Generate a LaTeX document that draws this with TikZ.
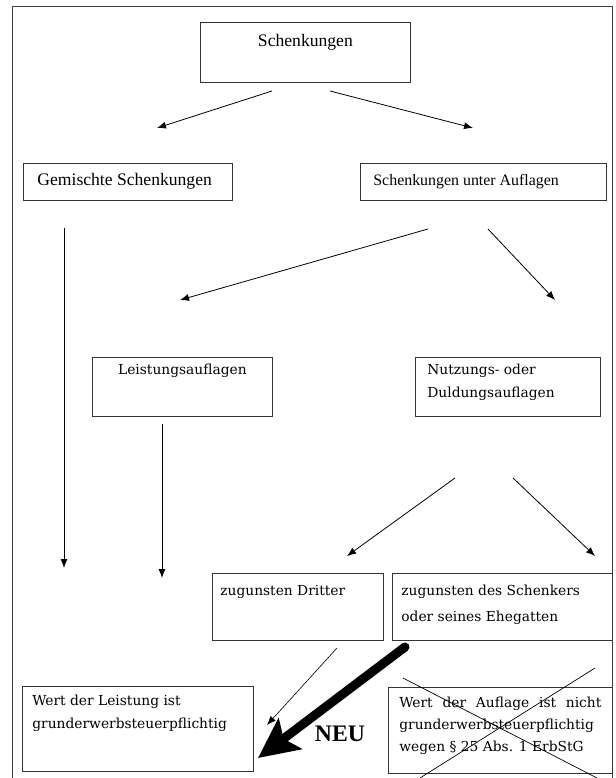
\documentclass[tikz,border=0pt]{standalone}
\usepackage{fontspec}
\setmainfont{Liberation Serif}
\newfontfamily\georgia{DejaVu Serif}
\usetikzlibrary{arrows.meta}
\newcommand{\boxtext}[4]{\begin{minipage}[t][#2][t]{#1}\vspace*{#3}#4\end{minipage}}

\begin{document}
\begin{tikzpicture}[x=1pt, y=-1pt,
  box/.style={draw=black!80, line width=0.8pt, anchor=north west,
              inner ysep=0pt, inner xsep=#1},
  box/.default=0pt,
  arr/.style={line width=0.8pt, -{Latex[length=9pt,width=7pt]}},
  tms/.style={font=\fontsize{17.6}{21}\selectfont},
  geo/.style={font=\georgia\fontsize{13.8}{23}\selectfont}]
\useasboundingbox (0,0) rectangle (615,778);
\draw[black!75, line width=1pt] (12,778) -- (12,7) -- (612,7) -- (612,778);

\node[box, tms] (schenk) at (200,22) {\boxtext{210pt}{60pt}{12pt}{\centering Schenkungen}};
\node[box=14pt, tms] (gemischt) at (23,163) {\boxtext{181pt}{37pt}{10pt}{Gemischte Schenkungen}};
\node[box=13pt, font=\fontsize{15.9}{19}\selectfont] (auflagen) at (360,163) {\boxtext{220pt}{37pt}{10.5pt}{Schenkungen unter Auflagen}};
\node[box, geo] (leistung) at (92,357) {\boxtext{180pt}{59pt}{7pt}{\centering Leistungsauflagen}};
\node[box=12pt, geo] (nutzung) at (415,357) {\boxtext{161pt}{59pt}{7pt}{\raggedright Nutzungs- oder\\Duldungsauflagen}};
\node[box=8pt, geo] (dritter) at (212,573) {\boxtext{155pt}{67pt}{12pt}{\raggedright zugunsten Dritter}};
\node[box=9pt, geo, font=\georgia\fontsize{13.8}{26}\selectfont] (schenker) at (392,573) {\boxtext{202pt}{67pt}{12pt}{\raggedright zugunsten des Schenkers\\oder seines Ehegatten}};
\node[box=10pt, geo] (wertL) at (22,686) {\boxtext{211pt}{85pt}{8.5pt}{\raggedright Wert der Leistung ist\\grunderwerbsteuerpflichtig}};
\node[box=11pt, geo, font=\georgia\fontsize{13.8}{22}\selectfont] (wertA) at (388,687) {\boxtext{202pt}{86pt}{9.5pt}{Wert der Auflage ist nicht\linebreak grunderwerbsteuerpflichtig\\wegen § 25 Abs. 1 ErbStG}};
\node[font=\bfseries\fontsize{23.7}{26}\selectfont] (neu) at (340,734) {NEU};

\coordinate (s1) at (272,91);  \coordinate (e1) at (157,128);
\coordinate (s2) at (330,91);  \coordinate (e2) at (473,128);
\coordinate (s3) at (64,228);  \coordinate (e3) at (64,568);
\coordinate (s4) at (428,229); \coordinate (e4) at (180,300);
\coordinate (s5) at (488,229); \coordinate (e5) at (555,300);
\coordinate (s6) at (162,424); \coordinate (e6) at (162,578);
\coordinate (s7) at (455,478); \coordinate (e7) at (347,556);
\coordinate (s8) at (513,478); \coordinate (e8) at (595,556);
\coordinate (s9) at (337,648); \coordinate (e9) at (267,725);
\coordinate (sn) at (405,647); \coordinate (en) at (258,758);

\draw[arr] (s1) -- (e1);
\draw[arr] (s2) -- (e2);
\draw[arr] (s3) -- (e3);
\draw[arr] (s4) -- (e4);
\draw[arr] (s5) -- (e5);
\draw[arr] (s6) -- (e6);
\draw[arr] (s7) -- (e7);
\draw[arr] (s8) -- (e8);
\draw[arr, line width=0.6pt] (s9) -- (e9);
\draw[line width=9pt, line cap=round, -{Stealth[length=40pt,width=38pt,inset=8pt]}] (sn) -- (en);

\draw[line width=0.7pt] (403,678) -- (597,778) (595,668) -- (420,778);
\end{tikzpicture}
\end{document}
